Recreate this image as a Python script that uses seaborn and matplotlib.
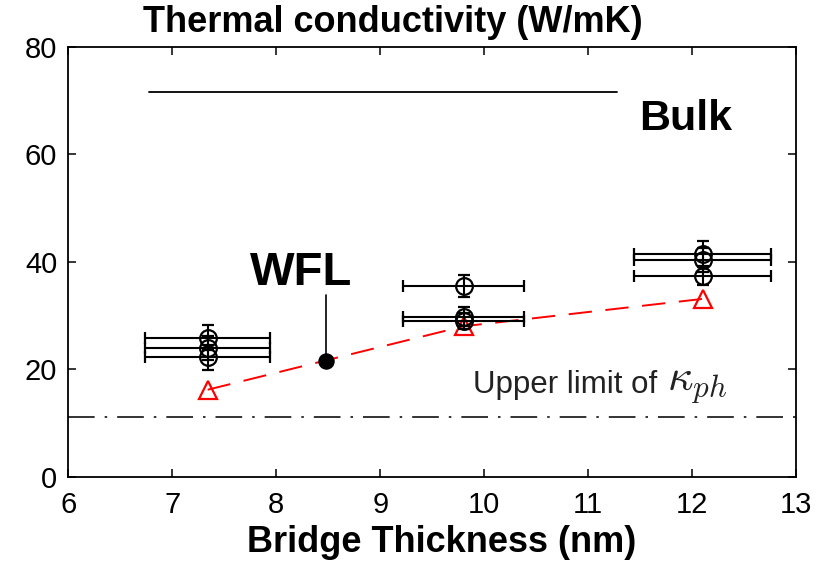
import numpy as np
import pandas as pd
import matplotlib
matplotlib.use("Agg")
import matplotlib.pyplot as plt
import seaborn as sns

# ---- data ----
meas_x = [7.34, 7.34, 7.34, 9.80, 9.80, 9.80, 12.10, 12.10, 12.10]
meas_y = [25.9, 24.0, 22.2, 35.5, 29.8, 29.0, 41.4, 40.3, 37.4]
meas_yerr = [2.3, 2.2, 2.3, 2.0, 1.7, 1.5, 2.4, 2.2, 1.8]
meas_xerr = [0.60, 0.60, 0.60, 0.58, 0.58, 0.58, 0.66, 0.66, 0.66]

model_x = [7.34, 9.80, 12.10]
model_y = [16.2, 28.0, 33.1]

wfl_x = [8.48]
wfl_y = [21.5]

bulk_x = [6.78, 11.28]
bulk_y = [71.6, 71.6]

upper_limit = 11.2

x_ticks = [6, 7, 8, 9, 10, 11, 12, 13]
y_ticks = [0, 20, 40, 60, 80]

# ---- style ----
sns.set_style("ticks")
plt.rcParams["font.family"] = ["Liberation Sans", "DejaVu Sans"]
plt.rcParams["mathtext.fontset"] = "cm"
plt.rcParams["text.color"] = "black"

fig = plt.figure(figsize=(8.19, 5.63), dpi=100)
ax = fig.add_axes([0.0834, 0.1531, 0.8889, 0.7638])

# bulk line
sns.lineplot(x=bulk_x, y=bulk_y, ax=ax, color="black", linewidth=1.3)

# upper limit dash-dot line
ax.axhline(upper_limit, color="#111111", linewidth=1.2, linestyle=(0, (16, 6, 1.5, 6)))

# model: red dashed line with open triangles
df_model = pd.DataFrame({"x": model_x, "y": model_y})
sns.lineplot(data=df_model, x="x", y="y", ax=ax, color="red", linewidth=1.4,
             dashes=False, linestyle=(0, (12, 7)), marker="^", markersize=13,
             markerfacecolor="none", markeredgecolor="red", markeredgewidth=1.6)

# measurements with error bars
ax.errorbar(meas_x, meas_y, xerr=meas_xerr, yerr=meas_yerr, fmt="o",
            markersize=12, markerfacecolor="none", markeredgecolor="black",
            markeredgewidth=1.6, ecolor="black", elinewidth=1.5, capsize=4.5,
            capthick=1.5, zorder=3)

# WFL point
sns.scatterplot(x=wfl_x, y=wfl_y, ax=ax, color="black", s=120, zorder=4,
                edgecolor="black")
ax.plot([wfl_x[0], wfl_x[0]], [wfl_y[0], 33.8], color="black", linewidth=1.2)
ax.text(8.24, 37.9, "WFL", fontsize=34, fontweight="bold", ha="center",
        va="center", color="black")

ax.text(11.94, 66.6, "Bulk", fontsize=31, fontweight="bold", ha="center",
        va="center", color="black")
ax.text(9.89, 17.0, "Upper limit of", fontsize=22.5,
        ha="left", va="center", color="#222222")
ax.text(11.76, 16.9, r"$\kappa_{ph}$", fontsize=32,
        ha="left", va="center", color="#222222")

ax.set_xlim(6, 13)
ax.set_ylim(0, 80)
ax.set_xticks(x_ticks)
ax.set_yticks(y_ticks)
ax.tick_params(direction="in", length=6, width=1.1, top=True, right=True,
               labelsize=21, pad=8, colors="black")
ax.tick_params(axis="x", pad=10)
for s in ax.spines.values():
    s.set_linewidth(1.3)
    s.set_color("black")
ax.set_xlabel("")
ax.set_ylabel("")

fig.text(393 / 819, 1 - 23 / 563, "Thermal conductivity (W/mK)", fontsize=26,
         fontweight="bold", ha="center", va="center", color="black")
fig.text(442 / 819, 1 - 543 / 563, "Bridge Thickness (nm)", fontsize=26,
         fontweight="bold", ha="center", va="center", color="black")

fig.savefig("out.png", dpi=100)
